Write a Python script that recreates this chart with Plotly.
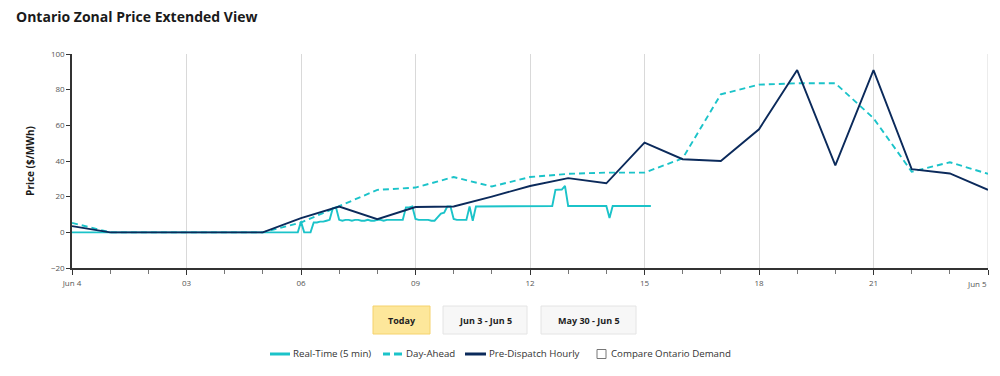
import plotly.graph_objects as go

# ---------------- data ----------------
hours = list(range(25))
hour_labels = ["Jun 4", "03", "06", "09", "12", "15", "18", "21", ""]
hour_label_pos = [0, 3, 6, 9, 12, 15, 18, 21, 24]
end_label = "Jun 5"

day_ahead = [5.3, 0, 0, 0, 0, 0, 5.5, 14.8, 23.8, 25.1, 31.0, 25.7, 31.0, 32.8, 33.5, 33.5,
             41.5, 77.4, 82.8, 83.6, 83.6, 64.0, 34.0, 39.3, 32.8]
pre_dispatch = [3.5, 0, 0, 0, 0, 0, 8.0, 14.5, 7.4, 14.2, 14.5, 20.0, 26.0, 30.4, 27.5, 50.3,
                41.0, 40.0, 57.8, 91.0, 37.5, 91.0, 35.4, 33.0, 23.8]

# real-time 5-minute prices, one row per hour (values at :00, :05, ... :55)
rt_h00 = [0] * 12
rt_h01 = [0] * 12
rt_h02 = [0] * 12
rt_h03 = [0] * 12
rt_h04 = [0] * 12
rt_h05 = [0] * 12
rt_h06 = [6.0, 0, 0, 0, 5.5, 5.5, 6.0, 6.0, 6.5, 7.0, 13.5, 14.0]
rt_h07 = [7.0, 6.5, 7.0, 7.0, 6.5, 7.0, 7.0, 6.5, 6.5, 7.0, 6.5, 6.5]
rt_h08 = [7.0, 7.0, 6.5, 7.0, 7.0, 7.0, 7.0, 7.0, 7.0, 14.0, 14.0, 14.5]
rt_h09 = [7.5, 7.0, 7.0, 7.0, 7.0, 6.5, 6.5, 8.5, 10.5, 11.0, 14.5, 14.5]
rt_h10 = [7.5, 7.0, 7.0, 7.0, 7.0, 14.5, 6.5, 14.5, 14.5, 14.5, 14.5, 14.5]
rt_h11 = [14.8] * 12
rt_h12 = [14.8, 14.8, 14.8, 14.8, 14.8, 14.8, 14.8, 14.8, 23.8, 23.8, 24.0, 26.0]
rt_h13 = [14.8] * 12
rt_h14 = [14.8, 8.0, 14.8, 14.8, 14.8, 14.8, 14.8, 14.8, 14.8, 14.8, 14.8, 14.8]
rt_h15 = [14.8, 14.8, 14.8]

y_ticks = [-20, 0, 20, 40, 60, 80, 100]

# ---------------- build ----------------
rt_vals = (rt_h00 + rt_h01 + rt_h02 + rt_h03 + rt_h04 + rt_h05 + rt_h06 + rt_h07 + rt_h08
           + rt_h09 + rt_h10 + rt_h11 + rt_h12 + rt_h13 + rt_h14 + rt_h15)
rt_time = [i * 5 / 60 for i in range(len(rt_vals))]

CYAN = "#1bc3c9"
NAVY = "#0b2a5b"
FONT = "Open Sans"

fig = go.Figure()
fig.add_trace(go.Scatter(x=rt_time, y=rt_vals, mode="lines", name="Real-Time (5 min)",
                         line=dict(color=CYAN, width=1.9)))
fig.add_trace(go.Scatter(x=hours, y=day_ahead, mode="lines", name="Day-Ahead",
                         line=dict(color=CYAN, width=1.9, dash="6px,4px")))
fig.add_trace(go.Scatter(x=hours, y=pre_dispatch, mode="lines", name="Pre-Dispatch Hourly",
                         line=dict(color=NAVY, width=1.9)))

# page layout (page pixel coords); the page body has an 8px margin
O = 8
FIG_W, FIG_H = 1000 - 2 * O, 376 - 2 * O
L, R, T, B = 72, 988, 54, 268
W, H = R - L, B - T


def px(x):
    return (x - L) / W


def py(y):
    return (B - y) / H


shapes = []
annotations = []

# gridline at the right end of the axis
shapes.append(dict(type="line", xref="x", yref="paper", x0=hour_label_pos[-1],
                   x1=hour_label_pos[-1], y0=0, y1=1, layer="below",
                   line=dict(color="#d9d9d9", width=1)))

# range buttons
buttons = [("Today", 373, 430, "#fde79b", "#f5d26c"),
           ("Jun 3 - Jun 5", 443, 527, "#f7f7f7", "#e4e4e4"),
           ("May 30 - Jun 5", 541, 636, "#f7f7f7", "#e4e4e4")]
for label, x0, x1, fill, border in buttons:
    shapes.append(dict(type="rect", xref="paper", yref="paper", x0=px(x0), x1=px(x1),
                       y0=py(334), y1=py(306), fillcolor=fill,
                       line=dict(color=border, width=1), layer="above"))
    annotations.append(dict(text="<b>" + label + "</b>", xref="paper", yref="paper",
                            x=px((x0 + x1) / 2), y=py(320), showarrow=False,
                            xanchor="center", yanchor="middle",
                            font=dict(family=FONT, size=9, color="#222222")))

# custom legend
ly = py(354)
shapes.append(dict(type="line", xref="paper", yref="paper", x0=px(270), x1=px(290), y0=ly, y1=ly,
                   line=dict(color=CYAN, width=3)))
shapes.append(dict(type="line", xref="paper", yref="paper", x0=px(383), x1=px(390), y0=ly, y1=ly,
                   line=dict(color=CYAN, width=3)))
shapes.append(dict(type="line", xref="paper", yref="paper", x0=px(394), x1=px(402), y0=ly, y1=ly,
                   line=dict(color=CYAN, width=3)))
shapes.append(dict(type="line", xref="paper", yref="paper", x0=px(465), x1=px(486), y0=ly, y1=ly,
                   line=dict(color=NAVY, width=3)))
shapes.append(dict(type="rect", xref="paper", yref="paper", x0=px(597), x1=px(606),
                   y0=py(358.5), y1=py(349.5), fillcolor="white",
                   line=dict(color="#777777", width=1)))
for text, x in [("Real-Time (5 min)", 291), ("Day-Ahead", 404), ("Pre-Dispatch Hourly", 487),
                ("Compare Ontario Demand", 609)]:
    annotations.append(dict(text=text, xref="paper", yref="paper", x=px(x), y=py(353.5),
                            showarrow=False, xanchor="left", yanchor="middle",
                            font=dict(family=FONT, size=9.7, color="#333333")))

# end-of-axis label (kept inside the chart like the original)
annotations.append(dict(text=end_label, xref="x", yref="paper", x=hour_label_pos[-1],
                        y=py(283), showarrow=False, xanchor="right", yanchor="middle",
                        xshift=1, font=dict(family=FONT, size=8, color="#555555")))

# title
annotations.append(dict(text="<b>Ontario Zonal Price Extended View</b>", xref="paper",
                        yref="paper", x=px(14), y=py(17), showarrow=False,
                        xanchor="left", yanchor="middle",
                        font=dict(family=FONT, size=14, color="#1a1a1a")))

fig.update_layout(
    width=FIG_W, height=FIG_H,
    margin=dict(l=L - O, r=FIG_W - (R - O), t=T - O, b=FIG_H - (B - O), autoexpand=False),
    paper_bgcolor="white", plot_bgcolor="white",
    showlegend=False,
    shapes=shapes, annotations=annotations,
    font=dict(family=FONT),
)
fig.update_xaxes(
    range=[0, 24], tickvals=hour_label_pos, ticktext=hour_labels,
    showgrid=True, gridcolor="#d9d9d9", gridwidth=1,
    showline=True, linecolor="#333333", linewidth=1.5,
    ticks="outside", ticklen=5, tickcolor="#333333", ticklabelstandoff=2,
    minor=dict(dtick=1, ticks="outside", ticklen=4, tickcolor="#777777", showgrid=False),
    tickfont=dict(family=FONT, size=8, color="#555555"),
    zeroline=False, automargin=False,
)
fig.update_yaxes(
    range=[-20, 100], tickvals=y_ticks,
    showgrid=False, zeroline=False,
    showline=True, linecolor="#333333", linewidth=1.5,
    ticks="outside", ticklen=4, tickcolor="#333333",
    tickfont=dict(family=FONT, size=8, color="#555555"),
    title=dict(text="<b>Price ($/MWh)</b>", font=dict(family=FONT, size=10, color="#1a1a1a"),
               standoff=14),
    automargin=False,
)

fig.write_html("out.html")
